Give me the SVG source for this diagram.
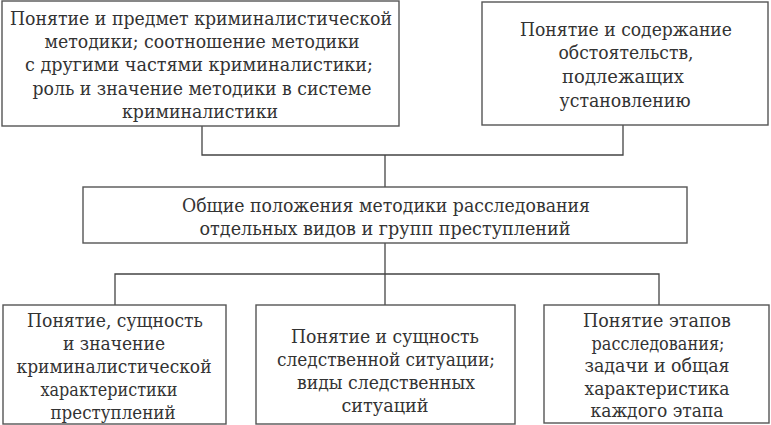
<svg xmlns="http://www.w3.org/2000/svg" width="771" height="425" viewBox="0 0 771 425">
<style>
.box{fill:#fff;stroke:#555;stroke-width:1.4}
.ln{fill:none;stroke:#444;stroke-width:1.3}
</style>
<rect width="771" height="425" fill="#fff"/>
<g id="connectors">
<polyline class="ln" points="202,126 202,155 623,155 623,125"/>
<line class="ln" x1="385" y1="155" x2="385" y2="187"/>
<line class="ln" x1="385" y1="243" x2="385" y2="305"/>
<polyline class="ln" points="115,305 115,274 659,274 659,305"/>
</g>
<g id="n1" fill="#333" text-anchor="middle">
<rect class="box" x="2" y="1" width="397" height="125"/>
<text font-family="DejaVu Serif" font-size="19" lengthAdjust="spacingAndGlyphs" textLength="382" x="201" y="25">Понятие и предмет криминалистической</text>
<text font-family="DejaVu Serif" font-size="19" lengthAdjust="spacingAndGlyphs" textLength="315" x="202" y="48">методики; соотношение методики</text>
<text font-family="DejaVu Serif" font-size="19" lengthAdjust="spacingAndGlyphs" textLength="348" x="199" y="71">с другими частями криминалистики;</text>
<text font-family="DejaVu Serif" font-size="19" lengthAdjust="spacingAndGlyphs" textLength="339" x="202" y="95">роль и значение методики в системе</text>
<text font-family="DejaVu Serif" font-size="19" lengthAdjust="spacingAndGlyphs" textLength="156" x="200" y="118">криминалистики</text>
</g>
<g id="n2" fill="#333" text-anchor="middle">
<rect class="box" x="482" y="2" width="286" height="123"/>
<text font-family="DejaVu Serif" font-size="19" lengthAdjust="spacingAndGlyphs" textLength="212" x="626" y="36">Понятие и содержание</text>
<text font-family="DejaVu Serif" font-size="19" lengthAdjust="spacingAndGlyphs" textLength="135" x="626" y="59">обстоятельств,</text>
<text font-family="DejaVu Serif" font-size="19" lengthAdjust="spacingAndGlyphs" textLength="122" x="623" y="83">подлежащих</text>
<text font-family="DejaVu Serif" font-size="19" lengthAdjust="spacingAndGlyphs" textLength="131" x="625" y="107">установлению</text>
</g>
<g id="n3" fill="#333" text-anchor="middle">
<rect class="box" x="83" y="187" width="604" height="56"/>
<text font-family="DejaVu Serif" font-size="19" lengthAdjust="spacingAndGlyphs" textLength="408" x="386" y="212">Общие положения методики расследования</text>
<text font-family="DejaVu Serif" font-size="19" lengthAdjust="spacingAndGlyphs" textLength="371" x="385" y="235">отдельных видов и групп преступлений</text>
</g>
<g id="n4" fill="#333" text-anchor="middle">
<rect class="box" x="3" y="305" width="223" height="119"/>
<text font-family="DejaVu Serif" font-size="19" lengthAdjust="spacingAndGlyphs" textLength="176" x="115" y="327">Понятие, сущность</text>
<text font-family="DejaVu Serif" font-size="19" lengthAdjust="spacingAndGlyphs" textLength="102" x="114" y="350">и значение</text>
<text font-family="DejaVu Serif" font-size="19" lengthAdjust="spacingAndGlyphs" textLength="195" x="114" y="373">криминалистической</text>
<text font-family="DejaVu Serif" font-size="19" lengthAdjust="spacingAndGlyphs" textLength="137" x="109" y="396">характеристики</text>
<text font-family="DejaVu Serif" font-size="19" lengthAdjust="spacingAndGlyphs" textLength="125" x="113" y="419">преступлений</text>
</g>
<g id="n5" fill="#333" text-anchor="middle">
<rect class="box" x="256" y="305" width="259" height="119"/>
<text font-family="DejaVu Serif" font-size="19" lengthAdjust="spacingAndGlyphs" textLength="188" x="385" y="343">Понятие и сущность</text>
<text font-family="DejaVu Serif" font-size="19" lengthAdjust="spacingAndGlyphs" textLength="218" x="386" y="366">следственной ситуации;</text>
<text font-family="DejaVu Serif" font-size="19" lengthAdjust="spacingAndGlyphs" textLength="178" x="386" y="389">виды следственных</text>
<text font-family="DejaVu Serif" font-size="19" lengthAdjust="spacingAndGlyphs" textLength="87" x="385" y="412">ситуаций</text>
</g>
<g id="n6" fill="#333" text-anchor="middle">
<rect class="box" x="544" y="305" width="225" height="118"/>
<text font-family="DejaVu Serif" font-size="19" lengthAdjust="spacingAndGlyphs" textLength="148" x="657" y="327">Понятие этапов</text>
<text font-family="DejaVu Serif" font-size="19" lengthAdjust="spacingAndGlyphs" textLength="133" x="658" y="350">расследования;</text>
<text font-family="DejaVu Serif" font-size="19" lengthAdjust="spacingAndGlyphs" textLength="145" x="657" y="372">задачи и общая</text>
<text font-family="DejaVu Serif" font-size="19" lengthAdjust="spacingAndGlyphs" textLength="145" x="657" y="395">характеристика</text>
<text font-family="DejaVu Serif" font-size="19" lengthAdjust="spacingAndGlyphs" textLength="133" x="657" y="417">каждого этапа</text>
</g>
</svg>
